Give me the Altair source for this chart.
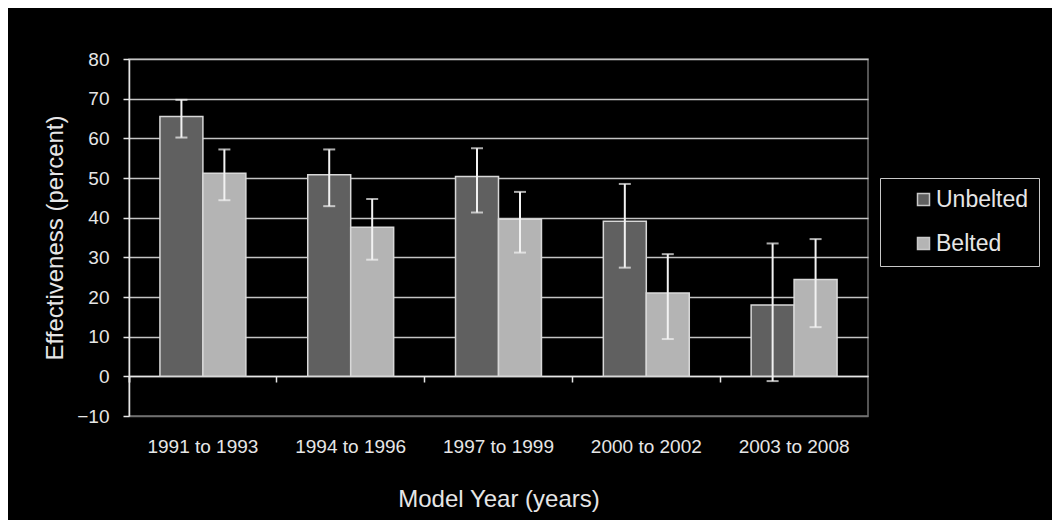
import altair as alt
import pandas as pd

groups = ["1991 to 1993", "1994 to 1996", "1997 to 1999", "2000 to 2002", "2003 to 2008"]
series = ["Unbelted", "Belted"]
unbelted = [65.5, 50.8, 50.4, 39.1, 18.0]
unbelted_lo = [60.2, 42.9, 41.3, 27.4, -1.2]
unbelted_hi = [69.7, 57.2, 57.5, 48.5, 33.5]
belted = [51.2, 37.6, 39.6, 21.0, 24.4]
belted_lo = [44.4, 29.4, 31.2, 9.4, 12.4]
belted_hi = [57.2, 44.7, 46.5, 30.8, 34.6]
y_ticks = [-10, 0, 10, 20, 30, 40, 50, 60, 70, 80]
colors = ["#606060", "#b4b4b4"]

rows = []
for i, g in enumerate(groups):
    rows.append(dict(group=g, series="Unbelted", value=unbelted[i], lo=unbelted_lo[i], hi=unbelted_hi[i]))
    rows.append(dict(group=g, series="Belted", value=belted[i], lo=belted_lo[i], hi=belted_hi[i]))
df = pd.DataFrame(rows)

FONT = "Liberation Sans"
TXT = "#e6e6e6"

x_axis = alt.Axis(
    offset=-40, domainColor="#e6e6e6", domainWidth=1.5, ticks=True, bandPosition=0,
    tickExtra=True, tickSize=6, tickColor="#e6e6e6", tickWidth=1.5,
    labelPadding=55, labelAngle=0, labelFontSize=19, titleFontSize=24,
    titlePadding=31, grid=False,
)
y_axis = alt.Axis(
    values=y_ticks, domainColor="#e6e6e6", domainWidth=1.5, tickColor="#e6e6e6",
    tickWidth=1.5, tickSize=6, labelPadding=14, labelFontSize=19, titleFontSize=24,
    titlePadding=9, grid=True, gridWidth=1.5,
    gridColor={"condition": {"test": "datum.value < 0", "value": "#707070"}, "value": "#c4c4c4"},
)

x = alt.X("group:N", sort=groups, scale=alt.Scale(paddingInner=0, paddingOuter=0),
          axis=x_axis, title="Model Year (years)")
xo = alt.XOffset("series:N", sort=series, scale=alt.Scale(paddingInner=0, paddingOuter=0.72))
yscale = alt.Scale(domain=[-10, 80], nice=False, zero=True)
ytitle = "Effectiveness (percent)"

color = alt.Color(
    "series:N", sort=series, scale=alt.Scale(domain=series, range=colors),
    legend=alt.Legend(
        orient="none", legendX=751, legendY=119, padding=10, strokeColor="#c8c8c8",
        fillColor="black", symbolType="square", symbolSize=144,
        symbolOffset=22, symbolStrokeColor="#c8c8c8", symbolStrokeWidth=1.5,
        labelFontSize=23, labelColor=TXT, labelFont=FONT, rowPadding=20, labelOffset=1,
        title=None, labelExpr="datum.label + '\u00a0\u00a0\u00a0\u00a0\u00a0\u00a0'",
    ),
)

base = alt.Chart(df)
bars = base.mark_bar(stroke="#d8d8d8", strokeWidth=1.5).encode(
    x=x, xOffset=xo,
    y=alt.Y("value:Q", scale=yscale, axis=y_axis, title=ytitle, stack=None),
    y2=alt.datum(0),
    color=color,
)
rules = base.mark_rule(color="#f2f2f2", strokeWidth=2).encode(
    x=x, xOffset=xo,
    y=alt.Y("lo:Q", scale=yscale, axis=y_axis, title=ytitle),
    y2="hi:Q",
)
cap_hi = base.mark_tick(color="#f2f2f2", thickness=2, size=12).encode(
    x=x, xOffset=xo, y=alt.Y("hi:Q", scale=yscale, axis=y_axis, title=ytitle),
)
cap_lo = base.mark_tick(color="#f2f2f2", thickness=2, size=12).encode(
    x=x, xOffset=xo, y=alt.Y("lo:Q", scale=yscale, axis=y_axis, title=ytitle),
)

chart = alt.layer(bars, rules, cap_hi, cap_lo).properties(
    width=739, height=357,
    autosize=alt.AutoSizeParams(type="none"),
    padding={"left": 121, "top": 51, "right": 184, "bottom": 104},
    background="black",
).configure_view(
    stroke="#707070", strokeWidth=1.5,
).configure_axis(
    labelColor=TXT, titleColor=TXT, labelFont=FONT, titleFont=FONT,
    titleFontWeight="normal",
)

chart.save("out.html", embed_options={"renderer": "svg", "actions": False})
